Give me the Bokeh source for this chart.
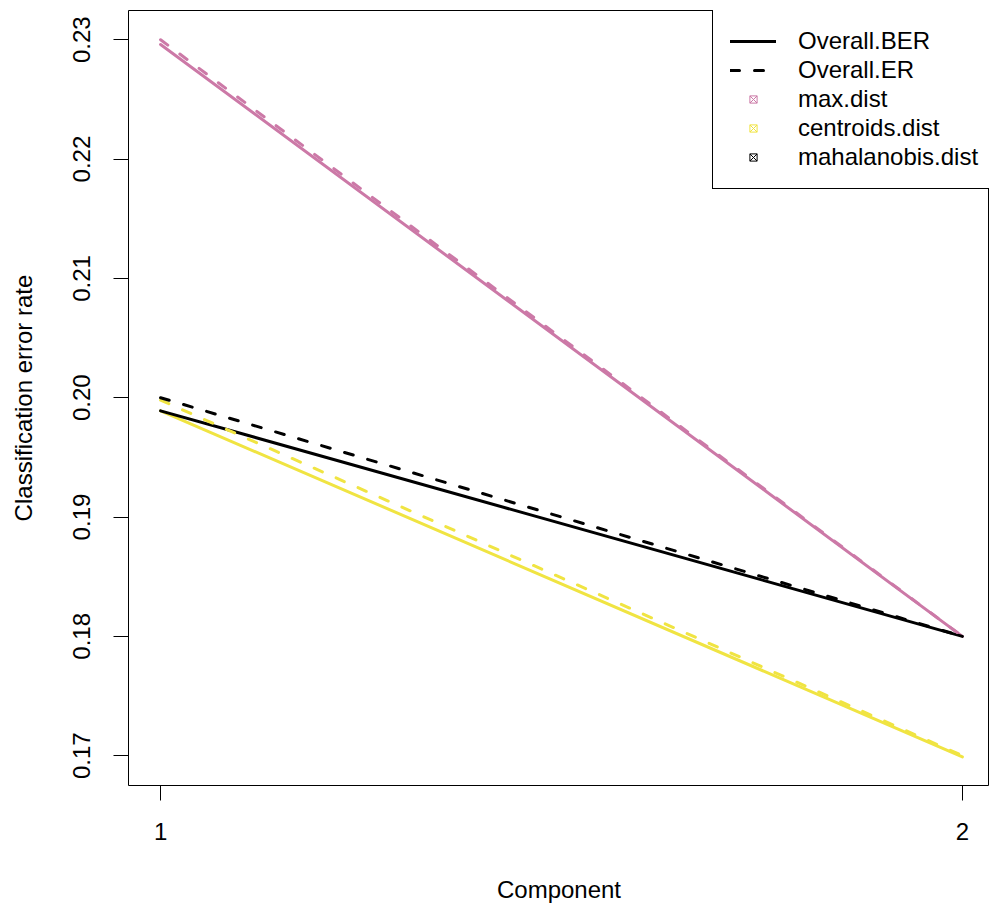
from bokeh.plotting import figure
from bokeh.models import FixedTicker, PrintfTickFormatter, Legend, LegendItem
from bokeh.embed import file_html
from bokeh.resources import INLINE

# ---- data ----
components = [1, 2]
max_dist_ber = [0.2296, 0.1800]
max_dist_er = [0.2300, 0.1800]
centroids_dist_ber = [0.1989, 0.1699]
centroids_dist_er = [0.1998, 0.1700]
mahalanobis_dist_ber = [0.1989, 0.1800]
mahalanobis_dist_er = [0.2000, 0.1800]

x_ticks = [1, 2]
y_ticks = [0.17, 0.18, 0.19, 0.20, 0.21, 0.22, 0.23]

dist_names = ["max.dist", "centroids.dist", "mahalanobis.dist"]
dist_colors = ["#CC79A7", "#F0E442", "#000000"]
ber_series = [max_dist_ber, centroids_dist_ber, mahalanobis_dist_ber]
er_series = [max_dist_er, centroids_dist_er, mahalanobis_dist_er]

FONT = "Liberation Sans"
DASH = "9 15"

p = figure(width=989, height=905, title=None,
           x_range=(0.96, 2.0338), y_range=(0.16750, 0.23245),
           output_backend="svg", toolbar_location=None,
           min_border_left=128, min_border_right=0,
           min_border_top=10, min_border_bottom=119)

p.xgrid.visible = False
p.ygrid.visible = False
p.outline_line_color = "black"
p.outline_line_width = 1
p.outline_line_alpha = 1
p.background_fill_color = "white"
p.border_fill_color = "white"

for ax in (p.xaxis[0], p.yaxis[0]):
    ax.axis_line_color = None
    ax.major_tick_in = 0
    ax.major_tick_out = 15
    ax.major_tick_line_color = "black"
    ax.major_tick_line_width = 1
    ax.minor_tick_line_color = None
    ax.major_label_text_font = FONT
    ax.major_label_text_font_size = "24px"
    ax.major_label_text_color = "black"
    ax.axis_label_text_font = FONT
    ax.axis_label_text_font_size = "24px"
    ax.axis_label_text_font_style = "normal"
    ax.axis_label_text_color = "black"

p.xaxis.ticker = FixedTicker(ticks=x_ticks)
p.yaxis.ticker = FixedTicker(ticks=y_ticks)
p.yaxis.formatter = PrintfTickFormatter(format="%.2f")
p.yaxis.major_label_orientation = "vertical"
p.xaxis.axis_label = "Component"
p.yaxis.axis_label = "Classification error rate"
p.xaxis.major_label_standoff = 22
p.xaxis.axis_label_standoff = 33
p.yaxis.major_label_standoff = 23
p.yaxis.axis_label_standoff = 34

# legend marker proxies (size 0, hidden below the lines)
marker_renderers = []
for ys, c in zip(ber_series, dist_colors):
    r = p.scatter(components, ys, marker="square_x", size=0, line_color=c,
                  fill_color=None, line_width=1)
    marker_renderers.append(r)

# BER (solid) lines
ber_renderers = []
for ys, c in zip(ber_series, dist_colors):
    ber_renderers.append(p.line(components, ys, line_color=c, line_width=3,
                                line_cap="round"))
# ER (dashed) lines
er_renderers = []
for ys, c in zip(er_series, dist_colors):
    er_renderers.append(p.line(components, ys, line_color=c, line_width=3,
                               line_cap="round", line_dash=DASH))

items = [LegendItem(label="Overall.BER", renderers=[ber_renderers[2]]),
         LegendItem(label="Overall.ER", renderers=[er_renderers[2]])]
for name, r in zip(dist_names, marker_renderers):
    items.append(LegendItem(label=name, renderers=[r]))

legend = Legend(items=items, location=(584, 596),
                label_text_font=FONT, label_text_font_size="24px",
                label_text_color="black",
                glyph_width=46, glyph_height=18, label_height=29,
                label_standoff=22, padding=17, spacing=0, margin=0,
                border_line_color="black", border_line_width=1,
                border_line_alpha=1, background_fill_color="white",
                background_fill_alpha=1)
p.add_layout(legend, "center")

open("out.html", "w").write(file_html(p, INLINE))
